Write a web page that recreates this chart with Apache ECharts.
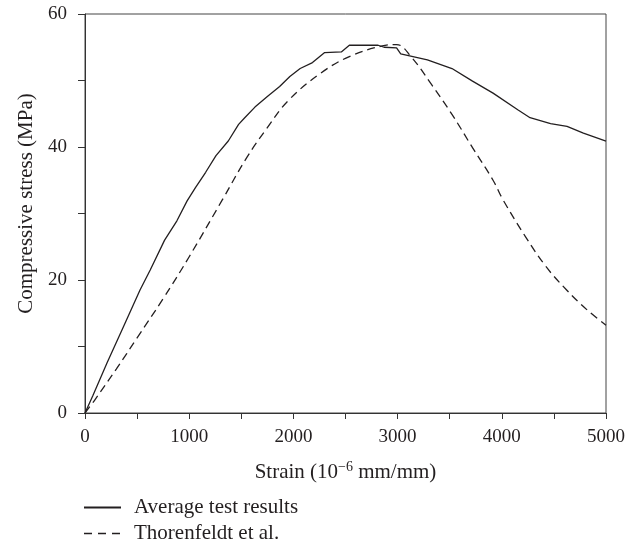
<!DOCTYPE html>
<html>
<head>
<meta charset="utf-8">
<script src="https://cdn.jsdelivr.net/npm/echarts@6/dist/echarts.min.js"></script>
<style>html,body{margin:0;padding:0;background:#fff}#c{width:644px;height:550px}</style>
</head>
<body>
<div id="c"></div>
<script>
var seriesNames = ['Average test results', 'Thorenfeldt et al.'];
var xTicks = [0, 1000, 2000, 3000, 4000, 5000];
var yTicks = [0, 20, 40, 60];
var avgTest = [
  [0,0],[75,2.6],[213,7.6],[370,13],[528,18.5],[626,21.5],[764,26],[882,28.9],
  [980,31.9],[1060,33.9],[1158,36.2],[1257,38.7],[1375,40.9],[1474,43.4],[1533,44.4],
  [1631,46],[1750,47.6],[1868,49.1],[1966,50.6],[2065,51.8],[2183,52.7],[2300,54.2],
  [2460,54.3],[2537,55.3],[2813,55.3],[2870,55.0],[2990,54.9],[3030,54.0],[3286,53.1],
  [3522,51.8],[3719,49.9],[3916,48.1],[4153,45.6],[4271,44.4],[4468,43.5],[4626,43.1],
  [4783,42.1],[5000,40.9]
];
var thorenfeldt = [
  [0,0],[100,2.1],[300,6.6],[500,11.3],[750,17.2],[1000,23.5],[1316,32],[1552,38.4],
  [1750,42.9],[1946,46.9],[2262,51.1],[2537,53.6],[2852,55.2],[2990,55.4],[3128,53.6],
  [3325,49.4],[3522,44.9],[3719,39.9],[3916,35],[4014,32],[4228,26.5],[4425,22],
  [4622,18.5],[4819,15.5],[5000,13.2]
];
var font = 'Liberation Serif';
var txt = '#231f20';
var chart = echarts.init(document.getElementById('c'));
chart.setOption({
  animation: false,
  textStyle: {fontFamily: font, color: txt},
  grid: {left: 85, right: 38, top: 14, bottom: 137, show: true, borderColor: '#444', borderWidth: 1, backgroundColor: 'transparent'},
  legend: {
    orient: 'vertical', left: 83, top: 497, height: 53, padding: 0, itemGap: 5, itemWidth: 37, itemHeight: 14,
    itemStyle: {opacity: 0},
    textStyle: {fontFamily: font, fontSize: 21, color: txt, padding: [0,0,0,8]},
    data: [
      {name: seriesNames[0]},
      {name: seriesNames[1], lineStyle: {type: [8, 6], width: 1.3}}
    ]
  },
  xAxis: {
    type: 'value', min: 0, max: 5000, interval: 500,
    name: '{a|Strain (10}{s|−6}{a| mm/mm)}', nameLocation: 'middle', nameGap: 47,
    nameTextStyle: {rich: {a: {fontFamily: font, fontSize: 21, color: txt}, s: {fontFamily: font, fontSize: 14, color: txt, verticalAlign: 'top', padding: [0,0,10,0]}}},
    axisLine: {lineStyle: {color: '#333'}},
    axisTick: {show: true, inside: false, length: 6, lineStyle: {color: '#333'}},
    splitLine: {show: false},
    axisLabel: {fontFamily: font, fontSize: 19, color: txt, margin: 15,
      formatter: function(v){ return xTicks.indexOf(v) >= 0 ? String(v) : ''; }}
  },
  yAxis: {
    type: 'value', min: 0, max: 60, interval: 10,
    name: 'Compressive stress (MPa)', nameLocation: 'middle', nameGap: 45,
    nameTextStyle: {fontFamily: font, fontSize: 21, color: txt, padding: [0,0,0,20]},
    axisLine: {show: true, lineStyle: {color: '#333'}},
    axisTick: {show: true, inside: false, length: 7, lineStyle: {color: '#333'}},
    splitLine: {show: false},
    axisLabel: {fontFamily: font, fontSize: 19, color: txt, margin: 18,
      formatter: function(v){ return yTicks.indexOf(v) >= 0 ? String(v) : ''; }}
  },
  series: [
    {name: seriesNames[0], type: 'line', data: avgTest, showSymbol: false, symbol: 'none',
     lineStyle: {color: '#231f20', width: 1.3, type: 'solid'}, itemStyle: {color: '#231f20'}},
    {name: seriesNames[1], type: 'line', data: thorenfeldt, showSymbol: false, symbol: 'none', smooth: 0.4,
     lineStyle: {color: '#231f20', width: 1.3, type: [8, 5]}, itemStyle: {color: '#231f20'}}
  ]
});
</script>
</body>
</html>
